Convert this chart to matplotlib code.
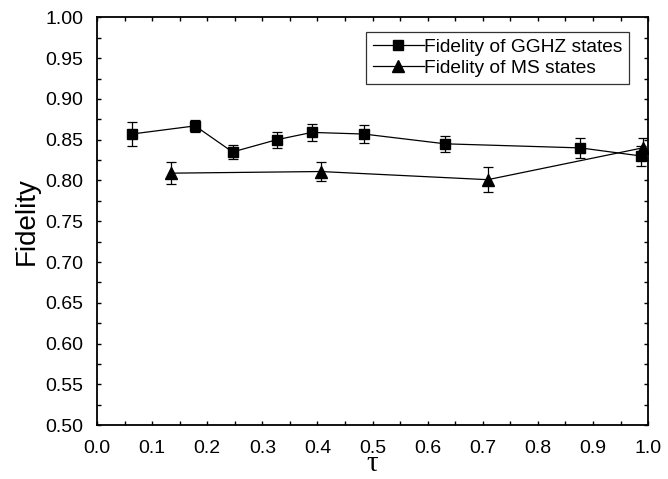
import matplotlib
matplotlib.use("Agg")
import matplotlib.pyplot as plt
from matplotlib.ticker import MultipleLocator

# GGHZ fidelity vs tau
gghz_tau = [0.063, 0.178, 0.246, 0.326, 0.390, 0.484, 0.632, 0.877, 0.988]
gghz_fid = [0.857, 0.867, 0.835, 0.850, 0.859, 0.857, 0.845, 0.840, 0.830]
gghz_err = [0.015, 0.0075, 0.0085, 0.010, 0.010, 0.011, 0.0095, 0.0125, 0.0125]

# MS fidelity vs tau
ms_tau = [0.135, 0.406, 0.709, 0.990]
ms_fid = [0.809, 0.811, 0.801, 0.840]
ms_err = [0.0135, 0.0115, 0.015, 0.0125]

plt.rcParams["font.family"] = ["Liberation Sans", "DejaVu Sans"]

fig = plt.figure(figsize=(6.68, 4.79), dpi=100)
ax = fig.add_axes([0.1452, 0.1127, 0.8250, 0.8508])

ax.errorbar(gghz_tau, gghz_fid, yerr=gghz_err, color="black", lw=0.9,
            marker="s", ms=7, capsize=3.5, elinewidth=0.9, capthick=0.9,
            label="Fidelity of GGHZ states")
ax.errorbar(ms_tau, ms_fid, yerr=ms_err, color="black", lw=0.9,
            marker="^", ms=9, capsize=3.5, elinewidth=0.9, capthick=0.9,
            label="Fidelity of MS states")

ax.set_xlim(0, 1.0)
ax.set_ylim(0.5, 1.0)
ax.xaxis.set_major_locator(MultipleLocator(0.1))
ax.xaxis.set_minor_locator(MultipleLocator(0.05))
ax.yaxis.set_major_locator(MultipleLocator(0.05))
ax.yaxis.set_minor_locator(MultipleLocator(0.025))
ax.xaxis.set_major_formatter(lambda v, p: f"{v:.1f}")
ax.yaxis.set_major_formatter(lambda v, p: f"{v:.2f}")
ax.tick_params(which="both", direction="in", top=True, right=True,
               length=3, width=1, labelsize=14)
ax.tick_params(axis="x", pad=11)
ax.tick_params(axis="y", pad=10)
for s in ax.spines.values():
    s.set_linewidth(1.3)

ax.set_ylabel("Fidelity", fontsize=20, labelpad=4)
ax.set_xlabel("τ", fontsize=21, family=["Liberation Serif", "DejaVu Serif"],
              labelpad=-4.5)

handles, labels = ax.get_legend_handles_labels()
handles = [h[0] for h in handles]
leg = ax.legend(handles, labels, loc="upper right", bbox_to_anchor=(0.966, 0.965),
                borderaxespad=0, fontsize=13.8, frameon=True, fancybox=False,
                edgecolor="black", handlelength=2.7, handletextpad=0.0,
                labelspacing=0.2, borderpad=0.35)
leg.get_frame().set_linewidth(0.9)

fig.savefig("out.png", dpi=100)
